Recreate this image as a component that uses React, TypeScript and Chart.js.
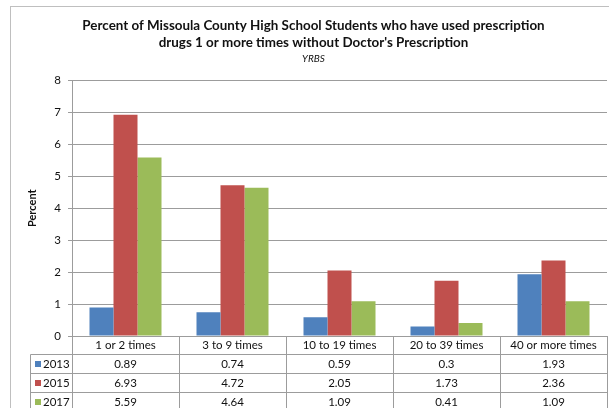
import React, { useEffect, useRef } from "react";
import { Chart, registerables } from "chart.js";

Chart.register(...registerables);

const categories = ["1 or 2 times", "3 to 9 times", "10 to 19 times", "20 to 39 times", "40 or more times"];
const years = ["2013", "2015", "2017"];
const values2013 = [0.89, 0.74, 0.59, 0.3, 1.93];
const values2015 = [6.93, 4.72, 2.05, 1.73, 2.36];
const values2017 = [5.59, 4.64, 1.09, 0.41, 1.09];
const seriesColors = ["#4F81BD", "#C0504D", "#9BBB59"];
const titleLines = [
  "Percent of Missoula County High School Students who have used prescription",
  "drugs 1 or more times without Doctor's Prescription",
];
const subtitleText = "YRBS";
const yAxisTitle = "Percent";
const yMin = 0;
const yMax = 8;
const yStep = 1;

const W = 609;
const H = 408;
const FONT = "Lato, 'Open Sans', sans-serif";
const GRID = "#9C9C9C";
const TEXT = "#111111";

const frameAndTable = {
  id: "frameAndTable",
  beforeDraw(chart: any) {
    const ctx = chart.ctx;
    ctx.save();
    ctx.fillStyle = "#ffffff";
    ctx.fillRect(0, 0, chart.width, chart.height);
    ctx.strokeStyle = "#BFBFBF";
    ctx.lineWidth = 1;
    ctx.strokeRect(10.5, 6.5, 1000, 1000);
    ctx.restore();
  },
  afterDraw(chart: any) {
    const ctx = chart.ctx;
    const area = chart.chartArea;
    const xs = chart.scales.x;
    const n = categories.length;
    const colW = (area.right - area.left) / n;
    const top = Math.round(area.bottom) + 0.5;
    const headerH = 18;
    const rowH = 19;
    const rowHeaderLeft = 30.5;
    const axisX = Math.round(area.left) + 0.5;
    const bottom = chart.height + 20;
    const series = [values2013, values2015, values2017];
    ctx.save();
    ctx.strokeStyle = GRID;
    ctx.lineWidth = 1;
    ctx.beginPath();
    ctx.moveTo(axisX, top);
    ctx.lineTo(axisX, bottom);
    ctx.moveTo(rowHeaderLeft, top + headerH);
    ctx.lineTo(rowHeaderLeft, bottom);
    for (let i = 1; i <= n; i++) {
      const x = Math.round(xs.getPixelForValue(i - 1) + colW / 2) + 0.5;
      ctx.moveTo(x, top);
      ctx.lineTo(x, bottom);
    }
    for (let r = 0; r <= years.length; r++) {
      const y = top + headerH + r * rowH;
      ctx.moveTo(rowHeaderLeft, y);
      ctx.lineTo(Math.round(area.right) + 0.5, y);
    }
    ctx.stroke();

    ctx.font = `11.5px ${FONT}`;
    ctx.textBaseline = "middle";
    for (let r = 0; r < years.length; r++) {
      const cy = top + headerH + r * rowH + rowH / 2;
      ctx.fillStyle = seriesColors[r];
      ctx.fillRect(35, Math.round(cy - 3), 6, 6);
      ctx.fillStyle = TEXT;
      ctx.textAlign = "left";
      ctx.fillText(years[r], 43, cy);
      ctx.textAlign = "center";
      for (let i = 0; i < n; i++) {
        ctx.fillText(String(series[r][i]), xs.getPixelForValue(i), cy);
      }
    }
    ctx.restore();
  },
};

export default function App() {
  const ref = useRef<HTMLCanvasElement | null>(null);
  useEffect(() => {
    if (!ref.current) return;
    const chart = new Chart(ref.current, {
      type: "bar",
      data: {
        labels: categories,
        datasets: [
          { label: years[0], data: values2013, backgroundColor: seriesColors[0] },
          { label: years[1], data: values2015, backgroundColor: seriesColors[1] },
          { label: years[2], data: values2017, backgroundColor: seriesColors[2] },
        ],
      },
      options: {
        responsive: false,
        animation: false,
        devicePixelRatio: 1,
        layout: { padding: { left: 20, right: 2, top: 0, bottom: 0 } },
        datasets: { bar: { barPercentage: 1, categoryPercentage: 0.673 } },
        plugins: {
          legend: { display: false },
          tooltip: { enabled: false },
          title: {
            display: true,
            text: titleLines,
            color: TEXT,
            font: { family: FONT, size: 13.4, weight: "bold", lineHeight: 1.23 },
            padding: { top: 17.5, bottom: 0 },
          },
          subtitle: {
            display: true,
            text: subtitleText,
            color: TEXT,
            font: { family: FONT, size: 10, style: "italic", lineHeight: 1.2 },
            padding: { top: 2.5, bottom: 15.5 },
          },
        },
        scales: {
          x: {
            grid: { display: false, drawTicks: false },
            border: { display: true, color: GRID },
            ticks: {
              color: TEXT,
              font: { family: FONT, size: 11.5 },
              padding: 2,
              maxRotation: 0,
              autoSkip: false,
            },
            afterFit: (s: any) => {
              s.height = 72;
            },
          },
          y: {
            min: yMin,
            max: yMax,
            ticks: {
              stepSize: yStep,
              color: TEXT,
              font: { family: FONT, size: 11.5 },
              padding: 7,
            },
            grid: { color: GRID, tickLength: 4, drawTicks: true },
            border: { display: true, color: GRID },
            title: {
              display: true,
              text: yAxisTitle,
              color: TEXT,
              font: { family: FONT, size: 11, weight: "bold", lineHeight: 1.2 },
              padding: { top: 6, bottom: 0 },
            },
            afterFit: (s: any) => {
              s.width = 52;
            },
          },
        },
      },
      plugins: [frameAndTable],
    });
    return () => chart.destroy();
  }, []);
  return (
    <div style={{ position: "fixed", left: 0, top: 0, width: W, height: H }}>
      <canvas ref={ref} width={W} height={H} style={{ width: W, height: H, display: "block" }} />
    </div>
  );
}
